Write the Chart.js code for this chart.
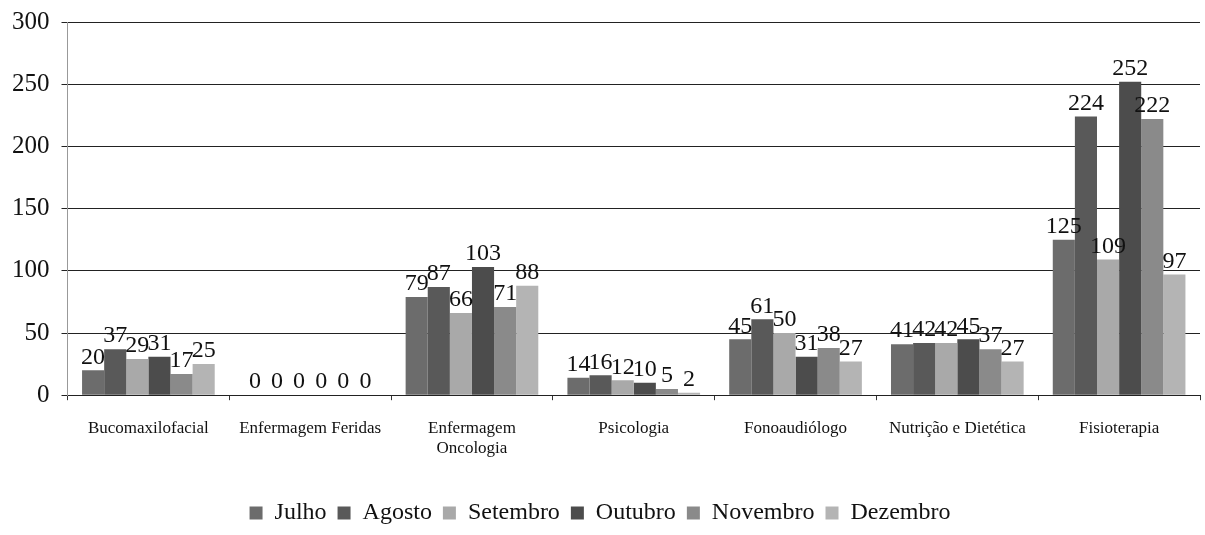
<!DOCTYPE html>
<html>
<head>
<meta charset="utf-8">
<script src="https://cdn.jsdelivr.net/npm/chart.js@4/dist/chart.umd.min.js"></script>
<style>
  html, body { margin: 0; padding: 0; background: #fff; }
  #wrap { width: 1205px; height: 535px; position: relative; }
</style>
</head>
<body>
<div id="wrap"><canvas id="chart"></canvas></div>
<script>
// ── Data ──────────────────────────────────────────────────────────────
const categories = [
  'Bucomaxilofacial',
  'Enfermagem Feridas',
  ['Enfermagem', 'Oncologia'],
  'Psicologia',
  'Fonoaudiólogo',
  'Nutrição e Dietética',
  'Fisioterapia',
];
const months = ['Julho', 'Agosto', 'Setembro', 'Outubro', 'Novembro', 'Dezembro'];

const julho    = [20, 0, 79, 14, 45, 41, 125];
const agosto   = [37, 0, 87, 16, 61, 42, 224];
const setembro = [29, 0, 66, 12, 50, 42, 109];
const outubro  = [31, 0, 103, 10, 31, 45, 252];
const novembro = [17, 0, 71, 5, 38, 37, 222];
const dezembro = [25, 0, 88, 2, 27, 27, 97];

const yTicks = [0, 50, 100, 150, 200, 250, 300];

// grayscale fills (scanned print)
const COLORS = ['#6c6c6c', '#595959', '#a9a9a9', '#4c4c4c', '#8a8a8a', '#b4b4b4'];
const SERIF = '"Liberation Serif", "DejaVu Serif", serif';

// ── Value labels above bars ─────────────────────────────────────────
const valueLabels = {
  id: 'valueLabels',
  afterDatasetsDraw(chart) {
    const ctx = chart.ctx;
    ctx.save();
    ctx.font = '24px ' + SERIF;
    ctx.fillStyle = '#111';
    ctx.textAlign = 'center';
    ctx.textBaseline = 'bottom';
    chart.data.datasets.forEach((ds, i) => {
      chart.getDatasetMeta(i).data.forEach((bar, j) => {
        ctx.fillText(String(ds.data[j]), bar.x, bar.y - 1);
      });
    });
    ctx.restore();
  },
};

const seriesData = [julho, agosto, setembro, outubro, novembro, dezembro];

new Chart(document.getElementById('chart'), {
  type: 'bar',
  data: {
    labels: categories,
    datasets: months.map((m, i) => ({
      label: m,
      data: seriesData[i],
      backgroundColor: COLORS[i],
      borderWidth: 0,
      categoryPercentage: 0.82,
      barPercentage: 1.0,
    })),
  },
  options: {
    responsive: true,
    maintainAspectRatio: false,
    animation: false,
    layout: { padding: { top: 0, right: 5, left: 0, bottom: 0 } },
    plugins: {
      legend: {
        position: 'bottom',
        labels: {
          color: '#111',
          font: { family: SERIF, size: 24 },
          boxWidth: 13,
          boxHeight: 13,
          padding: 11,
        },
      },
      tooltip: { enabled: false },
    },
    scales: {
      x: {
        grid: { display: true, drawOnChartArea: false, drawTicks: true, tickLength: 5, color: '#333' },
        border: { color: '#222' },
        ticks: {
          color: '#111',
          font: { family: SERIF, size: 17 },
          padding: 18,
          maxRotation: 0,
          autoSkip: false,
        },
        afterFit: (axis) => { axis.height += 13; },
      },
      y: {
        min: 0,
        max: 300,
        afterBuildTicks: (axis) => { axis.ticks = yTicks.map(v => ({ value: v })); },
        grid: { color: '#222', lineWidth: 1, tickLength: 6 },
        border: { color: '#999' },
        ticks: {
          color: '#111',
          font: { family: SERIF, size: 25, lineHeight: 0.8 },
          padding: 12,
        },
      },
    },
  },
  plugins: [valueLabels],
});
</script>
</body>
</html>
